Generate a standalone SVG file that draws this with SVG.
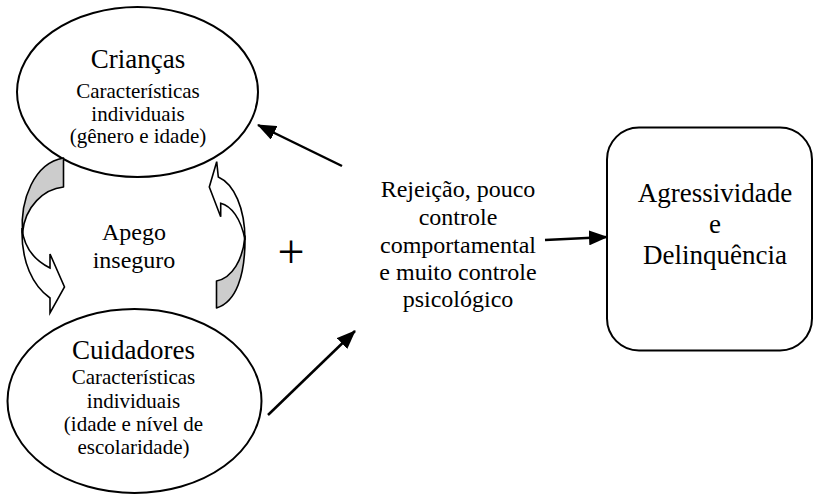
<svg xmlns="http://www.w3.org/2000/svg" width="814" height="494" viewBox="0 0 814 494">
<defs>
<style>
.t{font-family:"Liberation Serif","Times New Roman",serif;fill:#000;text-anchor:middle}
.h{font-size:27px}
.s{font-size:21px}
.m{font-size:24px}
.node{fill:#fff;stroke:#000;stroke-width:2}
.conn{stroke:#000;stroke-width:2.5;fill:none;marker-end:url(#ah)}
.back{fill:#cccccc;stroke:#000;stroke-width:1.6;stroke-linejoin:round}
.front{fill:#fff;stroke:#000;stroke-width:1.6;stroke-linejoin:miter}
</style>
<marker id="ah" markerUnits="userSpaceOnUse" markerWidth="19" markerHeight="15" refX="18" refY="7.5" orient="auto">
<path d="M0,0 L19,7.5 L0,15 Z" fill="#000"/>
</marker>
</defs>
<rect width="814" height="494" fill="#fff"/>

<g id="criancas">
<ellipse class="node" cx="137.5" cy="92" rx="120.5" ry="85"/>
<text class="t h" x="138" y="68">Crianças</text>
<text class="t s" x="138" y="97.5">Características</text>
<text class="t s" x="138" y="120.5">individuais</text>
<text class="t s" x="138" y="142.5">(gênero e idade)</text>
</g>

<g id="cuidadores">
<ellipse class="node" cx="134.5" cy="401" rx="127" ry="92"/>
<text class="t h" x="133.5" y="359">Cuidadores</text>
<text class="t s" x="133.5" y="383.5">Características</text>
<text class="t s" x="133.5" y="408">individuais</text>
<text class="t s" x="133.5" y="431">(idade e nível de</text>
<text class="t s" x="133.5" y="454">escolaridade)</text>
</g>

<g id="apego">
<path class="back" d="M63.5,158 L63.5,187 C44,189 25,206 22.5,233 C20,200 34,163 63.5,158 Z"/>
<path class="front" d="M22,228 C21,262 33,286 50,298 L50,313 L64.5,287 L50,254 L50,268 C36,261 24,250 22,228 Z"/>
<path class="back" d="M216.5,308 C236,302 245.5,276 245,236 C243,260 232,278 216.5,281 Z"/>
<path class="front" d="M245,240 C245,208 234,184 218.3,177 L216.7,161.7 L209.3,187 L220.7,216.7 L220.7,203.3 C231,206 241,218 245,240 Z"/>
<text class="t m" x="134" y="240">Apego</text>
<text class="t m" x="134" y="268">inseguro</text>
</g>

<g id="plus">
<text class="t" style="font-size:48px" x="291" y="268">+</text>
</g>

<g id="praticas">
<text class="t m" x="458" y="197">Rejeição, pouco</text>
<text class="t m" x="458" y="225">controle</text>
<text class="t m" x="458" y="252.5">comportamental</text>
<text class="t m" x="458" y="280">e muito controle</text>
<text class="t m" x="458" y="307">psicológico</text>
</g>

<g id="agressividade">
<rect class="node" x="607" y="127.5" width="205" height="223" rx="32" ry="32"/>
<text class="t h" x="715" y="201.5">Agressividade</text>
<text class="t h" x="715" y="232.5">e</text>
<text class="t h" x="715" y="263.5">Delinquência</text>
</g>

<g id="connectors">
<line class="conn" x1="342" y1="166" x2="258" y2="125"/>
<line class="conn" x1="268" y1="415" x2="355" y2="331"/>
<line class="conn" x1="545" y1="240" x2="607" y2="237"/>
</g>
</svg>
